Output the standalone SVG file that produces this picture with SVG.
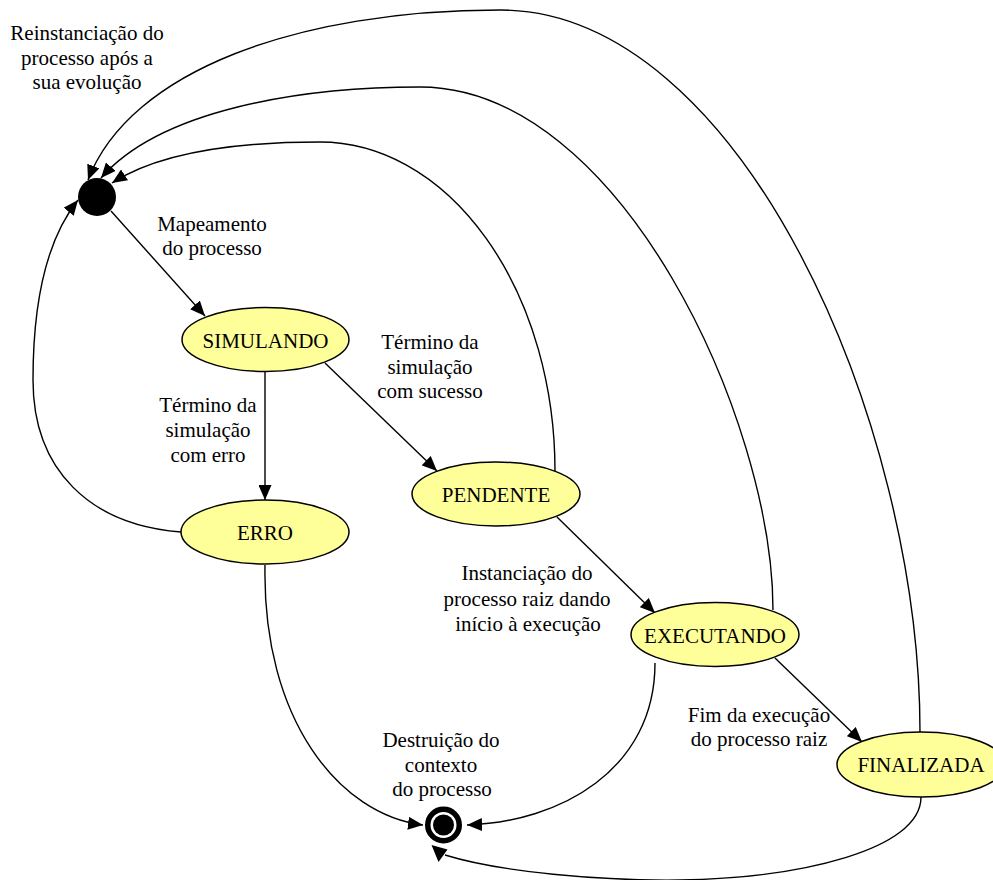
<svg xmlns="http://www.w3.org/2000/svg" width="993" height="880" viewBox="0 0 993 880">
<defs>
<style>
.node ellipse{fill:#ffff99;stroke:#000;stroke-width:1.5}
.lbl{font-family:"Liberation Serif","Times New Roman",serif;font-size:21px;fill:#000;text-anchor:middle}
.edge{fill:none;stroke:#000;stroke-width:1.4;marker-end:url(#arr)}
.plain{fill:none;stroke:#000;stroke-width:1.4}
</style>
<marker id="arr" markerWidth="15" markerHeight="13" refX="15" refY="6.5" orient="auto" markerUnits="userSpaceOnUse">
<path d="M0,0 L15,6.5 L0,13 z" fill="#000"/>
</marker>
</defs>
<rect width="993" height="880" fill="#fff"/>
<g id="connectors">
<path class="edge" d="M111,211 L205,316"/>
<path class="edge" d="M265,372 L265,500"/>
<path class="edge" d="M325,363 L437,471"/>
<path class="edge" d="M557,517 L655,613"/>
<path class="edge" d="M775,658 L862,742"/>
<path class="edge" d="M181,532 C90,525 33,470 33,380 C33,290 50,235 78,200"/>
<path class="edge" d="M555,471 A235,329 0 0 0 320,142 C240,142 160,152 112,183"/>
<path class="edge" d="M773,610 C773,420 620,87 420,87 C300,87 160,110 101,178"/>
<path class="edge" d="M920,732 C920,420 740,10 500,10 C300,10 130,70 88,180"/>
<path class="edge" d="M265,565 C262,720 340,815 423,825"/>
<path class="edge" d="M655,663 C655,770 560,822 467,825"/>
<path class="plain" d="M921,797 C921,850 800,878 680,880 C600,881 500,872 445,855"/>
<polygon points="431.5,845 447.5,849.5 438.5,862" fill="#000"/>
</g>
<g id="n_initial"><circle cx="97" cy="197" r="19" fill="#000"/></g>
<g id="n_final">
<circle cx="443.5" cy="825" r="15.75" fill="#fff" stroke="#000" stroke-width="5.5"/>
<circle cx="443.5" cy="825" r="10.5" fill="#000"/>
</g>
<g id="n_simulando" class="node"><ellipse cx="265.5" cy="339.5" rx="83.5" ry="32"/><text class="lbl" x="265.5" y="347.5">SIMULANDO</text></g>
<g id="n_pendente" class="node"><ellipse cx="496" cy="494" rx="84" ry="32"/><text class="lbl" x="496" y="502">PENDENTE</text></g>
<g id="n_erro" class="node"><ellipse cx="265" cy="532" rx="84" ry="32"/><text class="lbl" x="265" y="540">ERRO</text></g>
<g id="n_executando" class="node"><ellipse cx="715" cy="634.5" rx="84" ry="32"/><text class="lbl" x="715" y="642.5">EXECUTANDO</text></g>
<g id="n_finalizada" class="node"><ellipse cx="921" cy="764.5" rx="84" ry="32.5"/><text class="lbl" x="921" y="772">FINALIZADA</text></g>
<g id="labels">
<text class="lbl" x="87" y="40">Reinstanciação do</text>
<text class="lbl" x="87" y="64.5">processo após a</text>
<text class="lbl" x="87" y="89">sua evolução</text>
<text class="lbl" x="212" y="230.5">Mapeamento</text>
<text class="lbl" x="212" y="254.5">do processo</text>
<text class="lbl" x="430" y="349">Término da</text>
<text class="lbl" x="430" y="373.5">simulação</text>
<text class="lbl" x="430" y="398">com sucesso</text>
<text class="lbl" x="208" y="412">Término da</text>
<text class="lbl" x="208" y="437">simulação</text>
<text class="lbl" x="208" y="462">com erro</text>
<text class="lbl" x="527" y="580">Instanciação do</text>
<text class="lbl" x="527" y="605.5">processo raiz dando</text>
<text class="lbl" x="528" y="631">início à execução</text>
<text class="lbl" x="759" y="722">Fim da execução</text>
<text class="lbl" x="759" y="746">do processo raiz</text>
<text class="lbl" x="441" y="747">Destruição do</text>
<text class="lbl" x="441" y="771.5">contexto</text>
<text class="lbl" x="442" y="796">do processo</text>
</g>
</svg>
